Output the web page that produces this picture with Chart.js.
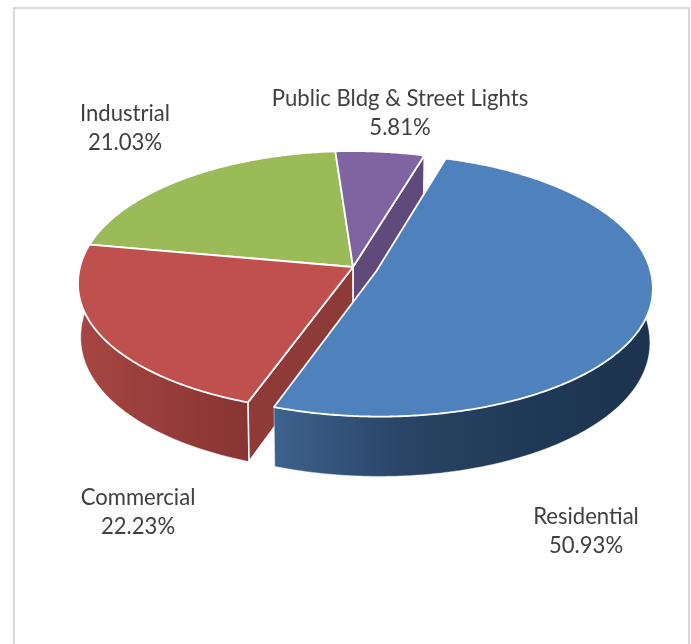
<!DOCTYPE html>
<html>
<head>
<meta charset="utf-8">
<title>Electricity consumption by sector</title>
<script src="https://cdn.jsdelivr.net/npm/chart.js@4/dist/chart.umd.min.js"></script>
<style>
  html, body { margin: 0; padding: 0; background: #fff; }
  canvas { display: block; }
</style>
</head>
<body>
<canvas id="pie" width="691" height="644"></canvas>
<script>
// Sector shares, in drawing order clockwise from the start angle
const categories = ['Residential', 'Commercial', 'Industrial', 'Public Bldg & Street Lights'];
const shares = [50.93, 22.23, 21.03, 5.81];

// Slice styling
const topColors = ['#4f81bd', '#c0504d', '#9bbb59', '#8064a2'];
const wallStops = [
  ['#3d628f', '#2a4566', '#1f3956', '#1d334e'],
  ['#a54644', '#9c403e', '#913a38', '#873533'],
  ['#7c9546', '#7c9546', '#7c9546', '#7c9546'],
  ['#604a7b', '#604a7b', '#604a7b', '#604a7b']
];
const cutColors = ['#2a4566', '#8e3a38', '#7c9546', '#604a7b'];
const explode = [28, 0, 0, 0];

// Label anchor points (centre x, first baseline y)
const labelSpots = [[586, 524], [138, 505], [125, 121], [400, 106]];

// Tilted-disc view: centre, horizontal radius, foreshortened radius, depth,
// perspective, narrowing of the lower rim, fullness of the near edge
const view = { cx: 353, cy: 267, rx: 273, ry: 128.8, depth: 53, persp: 0.111, shrink: 0.01, full: 0.96 };

function project(nx, ny, z) {
  const w = 1 - view.persp * ny;
  const squeeze = 1 - view.shrink * z;
  return [view.cx + squeeze * view.rx * nx / w, view.cy + (view.ry * ny + view.depth * z) / w];
}

function tracePath(ctx, pts) {
  ctx.beginPath();
  pts.forEach((p, i) => i ? ctx.lineTo(p[0], p[1]) : ctx.moveTo(p[0], p[1]));
  ctx.closePath();
}

function rimPoints(geo, z, from, to) {
  const n = Math.max(2, Math.ceil(Math.abs(to - from) / 0.01));
  const pts = [];
  for (let i = 0; i <= n; i++) {
    const a = from + (to - from) * i / n;
    const s = Math.sin(a);
    const depthward = s > 0 ? Math.pow(s, view.full) : s;
    pts.push(project(geo.ox + Math.cos(a), geo.oy + depthward, z));
  }
  return pts;
}

function sliceGeometry(arc) {
  const mid = (arc.startAngle + arc.endAngle) / 2;
  const frac = arc.options.offset / arc.outerRadius;
  const geo = { ox: Math.cos(mid) * frac, oy: Math.sin(mid) * frac };
  return {
    hubTop: project(geo.ox, geo.oy, 0),
    hubBot: project(geo.ox, geo.oy, 1),
    topRim: rimPoints(geo, 0, arc.startAngle, arc.endAngle),
    botRim: rimPoints(geo, 1, arc.startAngle, arc.endAngle)
  };
}

// A radial face shows only when its downward extrusion leaves the slice's own top face
function faceShows(hub, rimEnd, inner) {
  const ex = rimEnd[0] - hub[0], ey = rimEnd[1] - hub[1];
  const down = ex;
  const side = ex * (inner[1] - hub[1]) - ey * (inner[0] - hub[0]);
  return down * side < 0;
}

function paintSides(ctx, arc, index) {
  const { hubTop, hubBot, topRim, botRim } = sliceGeometry(arc);
  const inner = topRim[Math.floor(topRim.length / 2)];
  const last = topRim.length - 1;

  ctx.lineJoin = 'round';

  // Outer curved wall, shaded left to right
  const xs = topRim.concat(botRim).map(p => p[0]);
  const grad = ctx.createLinearGradient(Math.min(...xs), 0, Math.max(...xs), 0);
  wallStops[index].forEach((c, i, all) => grad.addColorStop(i / (all.length - 1), c));
  tracePath(ctx, topRim.concat(botRim.slice().reverse()));
  ctx.fillStyle = grad;
  ctx.fill();
  ctx.lineWidth = 0.8;
  ctx.strokeStyle = 'rgba(255,255,255,0.55)';
  ctx.stroke();

  // Radial cut faces sit in front of the wall
  [[topRim[0], botRim[0]], [topRim[last], botRim[last]]].forEach(([t, b]) => {
    if (!faceShows(hubTop, t, inner)) return;
    tracePath(ctx, [hubTop, t, b, hubBot]);
    ctx.fillStyle = cutColors[index];
    ctx.fill();
    ctx.lineWidth = 1.6;
    ctx.strokeStyle = '#ffffff';
    ctx.stroke();
  });
}

function paintTop(ctx, arc, index) {
  const { hubTop, topRim } = sliceGeometry(arc);
  tracePath(ctx, [hubTop].concat(topRim));
  ctx.fillStyle = topColors[index];
  ctx.fill();
  ctx.lineJoin = 'round';
  ctx.lineWidth = 1.8;
  ctx.strokeStyle = '#ffffff';
  ctx.stroke();
}

const tiltedPie = {
  id: 'tiltedPie',
  beforeDraw(chart) {
    const ctx = chart.ctx;
    ctx.save();
    ctx.fillStyle = '#ffffff';
    ctx.fillRect(0, 0, chart.width, chart.height);
    ctx.strokeStyle = '#d9d9d9';
    ctx.lineWidth = 2;
    ctx.strokeRect(14, 8, 675, 660);
    ctx.restore();
  },
  beforeDatasetDraw(chart, args) {
    const ctx = chart.ctx;
    const arcs = args.meta.data;
    const seated = [2, 3, 1];
    const pulled = [0];
    ctx.save();
    // Seated slices first, then the pulled-out slice in front of them
    seated.forEach(i => paintSides(ctx, arcs[i], i));
    seated.forEach(i => paintTop(ctx, arcs[i], i));
    pulled.forEach(i => paintSides(ctx, arcs[i], i));
    pulled.forEach(i => paintTop(ctx, arcs[i], i));
    ctx.restore();
    return false;
  },
  afterDraw(chart) {
    const ctx = chart.ctx;
    ctx.save();
    ctx.font = '22.1px Lato';
    ctx.fillStyle = '#404040';
    ctx.textAlign = 'center';
    categories.forEach((name, i) => {
      const [x, y] = labelSpots[i];
      ctx.fillText(name, x, y);
      ctx.fillText(shares[i].toFixed(2) + '%', x, y + 29);
    });
    ctx.restore();
  }
};

new Chart(document.getElementById('pie'), {
  type: 'pie',
  data: {
    labels: categories,
    datasets: [{ data: shares, backgroundColor: topColors, offset: explode, borderWidth: 0 }]
  },
  options: {
    responsive: false,
    animation: false,
    rotation: 16.8,
    plugins: { legend: { display: false }, tooltip: { enabled: false } }
  },
  plugins: [tiltedPie]
});
</script>
</body>
</html>
